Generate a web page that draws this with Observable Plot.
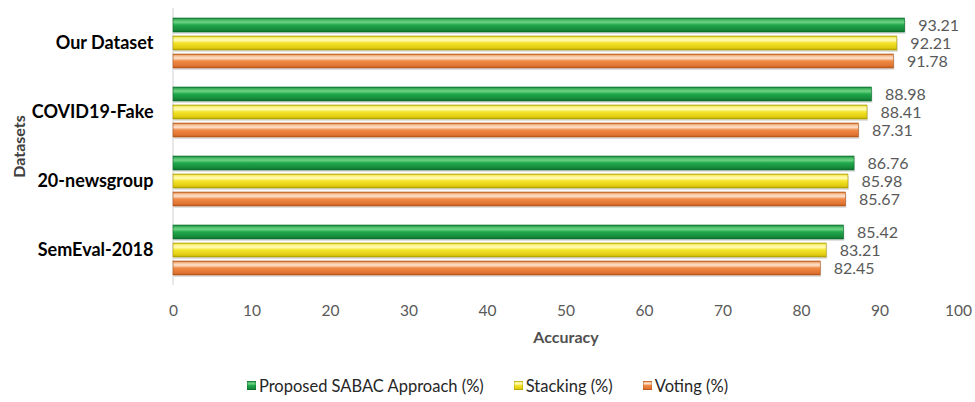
<!DOCTYPE html>
<html>
<head>
<meta charset="utf-8">
<script src="https://cdn.jsdelivr.net/npm/d3@7"></script>
<script src="https://cdn.jsdelivr.net/npm/@observablehq/plot@0.6"></script>
<style>
  html, body { margin: 0; padding: 0; background: #fff; }
  body { width: 975px; height: 402px; overflow: hidden; font-family: Lato, "Open Sans", sans-serif; }
  #chart svg { display: block; }
  #legend { height: 42px; box-sizing: border-box; padding-top: 9px; display: flex; justify-content: center; font-size: 16.5px; line-height: 18px; color: #262626; }
  .item { display: flex; align-items: center; margin: 0 15px; }
  .sw { width: 9px; height: 9px; margin-right: 3px; }
</style>
</head>
<body>
<div id="chart"></div>
<div id="legend"></div>
<script>
const datasets = ["Our Dataset", "COVID19-Fake", "20-newsgroup", "SemEval-2018"];
const series = ["Proposed SABAC Approach (%)", "Stacking (%)", "Voting (%)"];
const proposed = [93.21, 88.98, 86.76, 85.42];
const stacking = [92.21, 88.41, 85.98, 83.21];
const voting = [91.78, 87.31, 85.67, 82.45];
const xTicks = [0, 10, 20, 30, 40, 50, 60, 70, 80, 90, 100];

const values = [proposed, stacking, voting];
const data = [];
datasets.forEach((ds, i) => series.forEach((s, j) => data.push({dataset: ds, series: s, value: values[j][i]})));

const gradIds = ["gGreen", "gYellow", "gOrange"];
const strokes = ["#0e6e2e", "#a89a00", "#b0551a"];
const gradStops = [
  [[0, "#0f7a33"], [0.12, "#3fb45e"], [0.3, "#6fd486"], [0.5, "#21a84c"], [0.85, "#158a3a"], [1, "#0c6a2a"]],
  [[0, "#c8b800"], [0.12, "#fbf27a"], [0.3, "#fffbb8"], [0.5, "#f4e42a"], [0.85, "#e0cc10"], [1, "#b3a200"]],
  [[0, "#c9621f"], [0.12, "#f6b98a"], [0.3, "#fde3cf"], [0.5, "#f08a45"], [0.85, "#e07432"], [1, "#b8561a"]]
];

const marks = [];
series.forEach((s, j) => {
  const sub = data.filter(d => d.series === s);
  marks.push(Plot.barX(sub, {x: "value", y: "series", fy: "dataset", fill: "#000", fillOpacity: 0.12, dy: 2, dx: 1}));
  marks.push(Plot.barX(sub, {x: "value", y: "series", fy: "dataset", fill: `url(#${gradIds[j]})`, stroke: strokes[j], strokeWidth: 0.6}));
});
marks.push(Plot.text(data, {x: "value", y: "series", fy: "dataset", text: d => d.value.toFixed(2), textAnchor: "start", dx: 13, fill: "#595959", fontSize: 16}));
marks.push(Plot.axisX({ticks: xTicks, tickSize: 0, tickPadding: 29, fontSize: 15.5, color: "#595959", label: "Accuracy", labelAnchor: "center", labelOffset: 67, tickFormat: d => d}));
marks.push(Plot.axisFy({anchor: "left", tickSize: 0, tickPadding: 20, fontSize: 18, fontWeight: "bold", color: "#000", label: "Datasets", labelAnchor: "center", labelOffset: 160}));

const chart = Plot.plot({
  width: 975,
  height: 360,
  marginLeft: 173,
  marginRight: 17,
  marginTop: 8,
  marginBottom: 75,
  style: {fontFamily: "Lato, 'Open Sans', sans-serif", background: "#fff"},
  x: {domain: [0, 100], label: "Accuracy"},
  y: {domain: series, axis: null, paddingInner: 0.25, paddingOuter: 0},
  fy: {domain: datasets, paddingInner: 0.26, paddingOuter: 0.13, label: "Datasets"},
  marks
});

const svg = d3.select(chart);
const defs = svg.insert("defs", ":first-child");
gradIds.forEach((id, j) => {
  const g = defs.append("linearGradient").attr("id", id).attr("x1", 0).attr("y1", 0).attr("x2", 0).attr("y2", 1);
  gradStops[j].forEach(([o, c]) => g.append("stop").attr("offset", o).attr("stop-color", c));
});
// vertical category axis line at x = 0, spanning the whole plot area
const x0 = chart.scale("x").apply(0);
svg.insert("line", "defs + *").attr("x1", x0).attr("x2", x0).attr("y1", 8).attr("y2", 360 - 75).attr("stroke", "#d0d0d0");
svg.selectAll('[aria-label="x-axis label"] text').attr("font-weight", "bold").attr("font-size", 16).attr("fill", "#505050").text("Accuracy");
svg.selectAll('[aria-label="fy-axis label"] text').attr("font-size", 16).attr("font-weight", "bold").attr("fill", "#404040").text("Datasets");

document.getElementById("chart").appendChild(chart);

const legend = d3.select("#legend");
series.forEach((s, j) => {
  const it = legend.append("div").attr("class", "item");
  it.append("svg").attr("class", "sw").attr("width", 9).attr("height", 9)
    .append("rect").attr("width", 9).attr("height", 9).attr("fill", `url(#${gradIds[j]})`).attr("stroke", strokes[j]).attr("stroke-width", 0.8);
  it.append("span").text(s);
});
</script>
</body>
</html>
